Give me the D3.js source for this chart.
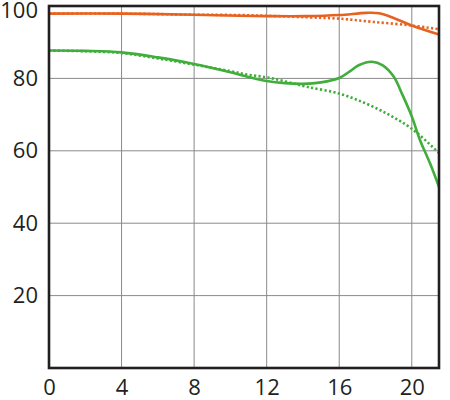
<!DOCTYPE html>
<html><head><meta charset="utf-8">
<script src="https://cdn.jsdelivr.net/npm/d3@7"></script>
<style>
html,body{margin:0;padding:0;background:#fff;}
svg{display:block;}
text{font-family:"Open Sans","Noto Sans",sans-serif;}
</style></head>
<body>
<svg id="chart" width="450" height="400"></svg>
<script>
const xTicks = [0, 4, 8, 12, 16, 20];
const yTicks = [20, 40, 60, 80, 100];
const yGrid = [20, 40, 60, 80];

const orangeSolidX = [0, 4, 8, 10.5, 12, 14.2, 16, 17.5, 18.2, 19, 20, 21.5];
const orangeSolidY = [97.9, 97.9, 97.6, 97.3, 97.2, 97.2, 97.5, 98.1, 98.0, 96.7, 94.6, 92.1];

const orangeDotX = [0, 4, 8, 10.5, 12, 14.2, 16, 17.9, 20, 21.5];
const orangeDotY = [97.9, 97.9, 97.6, 97.5, 97.3, 96.9, 96.5, 95.6, 94.6, 93.6];

const greenSolidX = [0, 2, 4, 6, 8, 10, 11, 12, 13, 14, 15, 16, 16.6, 17.1, 17.8, 18.4, 19, 19.5, 20, 20.45, 21, 21.5];
const greenSolidY = [87.7, 87.6, 87.2, 85.8, 84.0, 81.7, 80.4, 79.3, 78.7, 78.5, 78.9, 80.1, 82.0, 83.7, 84.6, 83.6, 80.5, 75.3, 69.5, 63.0, 56.6, 50.0];

const greenDotX = [0, 2, 4, 6, 8, 10, 11, 12, 13, 14.2, 16, 17.5, 18.8, 20, 21.5];
const greenDotY = [87.7, 87.5, 87.0, 85.5, 83.8, 82.0, 81.0, 80.3, 79.2, 77.7, 75.8, 73.0, 69.8, 66.1, 59.4];

const colors = {orange: "#e8621f", green: "#3fae3a", frame: "#231f20", grid: "#8a8a8a"};

const margin = {left: 49, right: 11, top: 6, bottom: 32};
const W = 450, H = 400;
const x = d3.scaleLinear().domain([0, 21.5]).range([margin.left, W - margin.right]);
const y = d3.scaleLinear().domain([0, 100]).range([H - margin.bottom, margin.top]);

const svg = d3.select("#chart");

// grid
svg.append("g").selectAll("line").data(xTicks.filter(d => d > 0)).join("line")
  .attr("x1", d => x(d)).attr("x2", d => x(d))
  .attr("y1", y(0)).attr("y2", y(100))
  .attr("stroke", colors.grid).attr("stroke-width", 1);
svg.append("g").selectAll("line").data(yGrid).join("line")
  .attr("x1", x(0)).attr("x2", x(21.5))
  .attr("y1", d => y(d)).attr("y2", d => y(d))
  .attr("stroke", colors.grid).attr("stroke-width", 1);

// lines
const line = d3.line().x(d => x(d[0])).y(d => y(d[1])).curve(d3.curveCatmullRom.alpha(0.5));
function series(xs, ys, color, dotted) {
  const p = svg.append("path").datum(xs.map((v, i) => [v, ys[i]]))
    .attr("d", line).attr("fill", "none").attr("stroke", color)
    .attr("stroke-width", 2.6);
  if (dotted) p.attr("stroke-dasharray", "2.2,2.3");
}
series(orangeDotX, orangeDotY, colors.orange, true);
series(greenDotX, greenDotY, colors.green, true);
series(orangeSolidX, orangeSolidY, colors.orange, false);
series(greenSolidX, greenSolidY, colors.green, false);

// frame
svg.append("rect").attr("x", x(0)).attr("y", y(100))
  .attr("width", x(21.5) - x(0)).attr("height", y(0) - y(100))
  .attr("fill", "none").attr("stroke", colors.frame).attr("stroke-width", 2.6);

// axes labels
const xAxis = d3.axisBottom(x).tickValues(xTicks).tickSize(0).tickPadding(20);
const gx = svg.append("g").attr("transform", `translate(0,${y(0)})`).call(xAxis);
gx.select(".domain").remove();
gx.selectAll("text").attr("font-size", 22).attr("fill", colors.frame)
  .attr("font-family", "'Open Sans','Noto Sans',sans-serif")
  .attr("dy", "0.32em");

const yAxis = d3.axisLeft(y).tickValues(yTicks).tickSize(0).tickPadding(11);
const gy = svg.append("g").attr("transform", `translate(${x(0)},0)`).call(yAxis);
gy.select(".domain").remove();
gy.selectAll("text").attr("font-size", 22).attr("fill", colors.frame)
  .attr("font-family", "'Open Sans','Noto Sans',sans-serif");
gy.selectAll(".tick").filter(d => d === 100).select("text").attr("dy", "0.53em");
</script>
</body></html>
